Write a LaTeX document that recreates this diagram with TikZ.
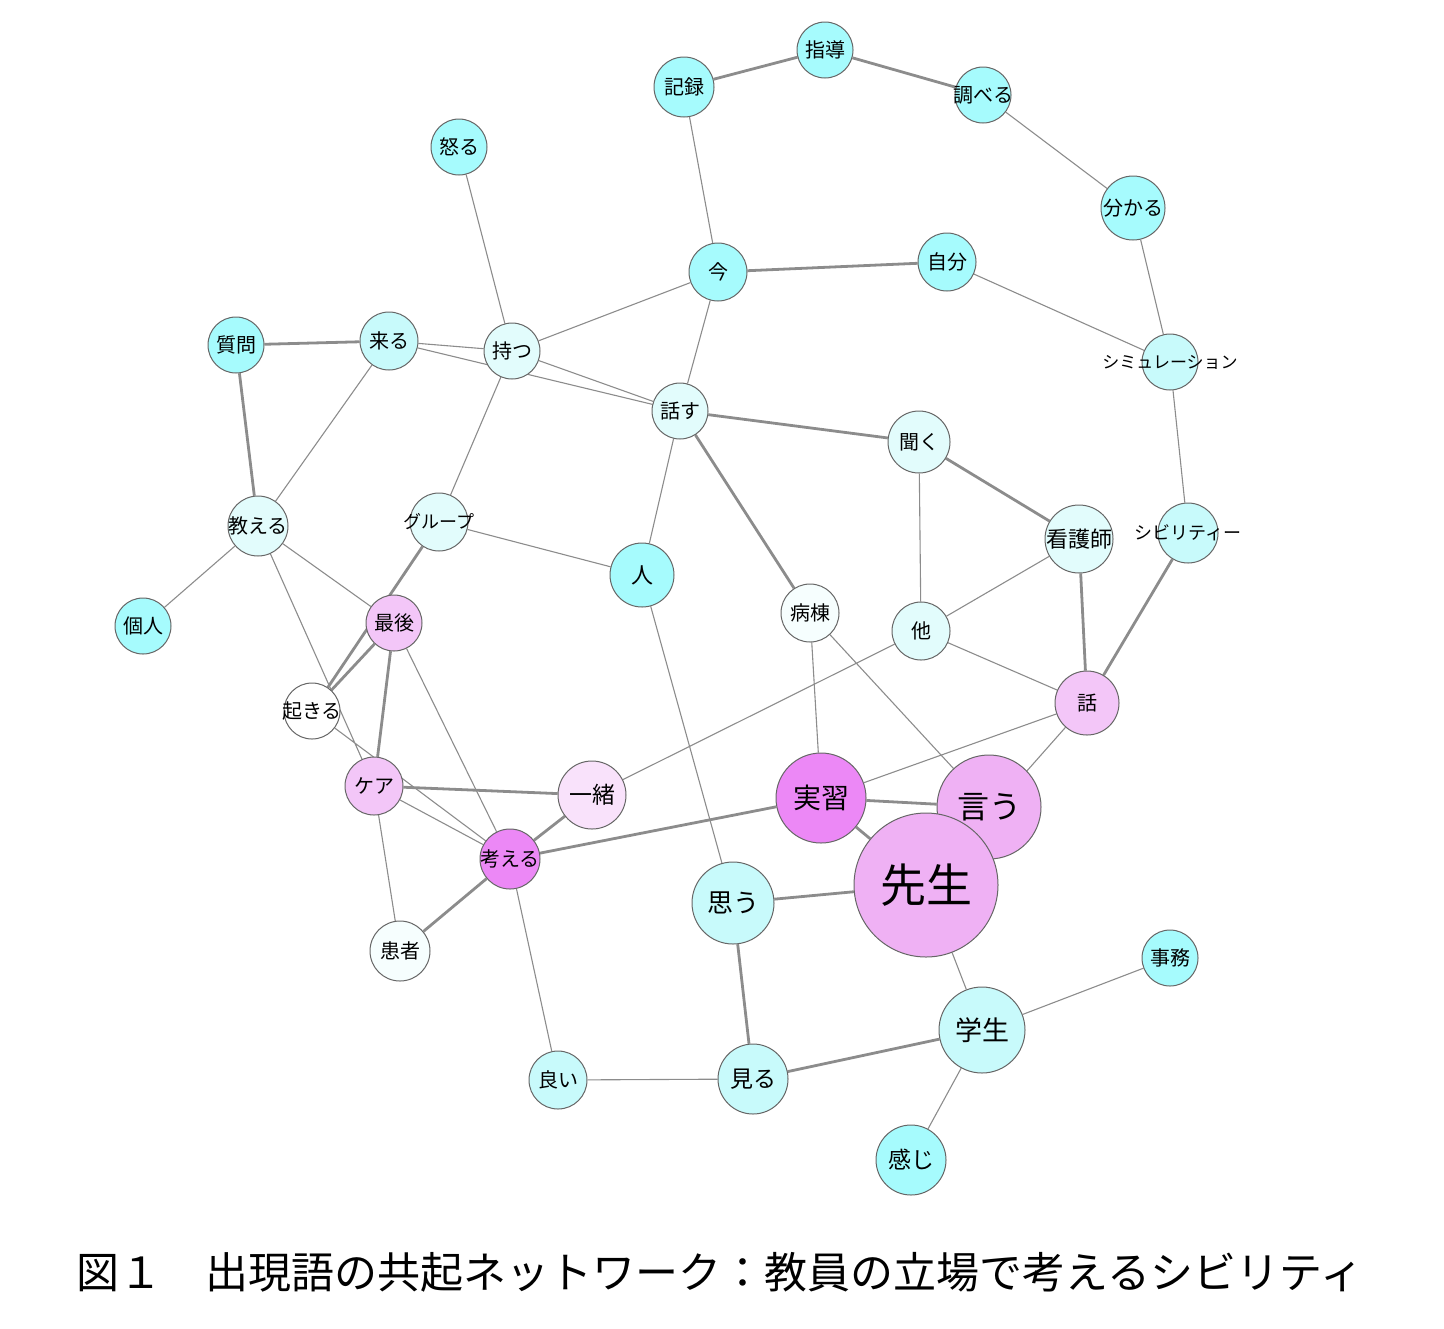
\documentclass[tikz,border=0pt]{standalone}
\usepackage{fontspec}
\setmainfont{Noto Sans CJK JP}
\usetikzlibrary{backgrounds}
\definecolor{wcyan}{HTML}{A6FBFD}
\definecolor{wlight}{HTML}{C8FAFB}
\definecolor{wpale}{HTML}{E2FCFC}
\definecolor{wwhite}{HTML}{F6FEFE}
\definecolor{wpink}{HTML}{F3C6F8}
\definecolor{wrose}{HTML}{F9E2FB}
\definecolor{wsay}{HTML}{EFB1F4}
\definecolor{wmag}{HTML}{EC88F6}
\newcommand{\wide}[1]{\makebox[0pt]{#1}}
\begin{document}
\begin{tikzpicture}[x=0.5pt,y=-0.5pt,
	word/.style={draw=black!60, circle, inner sep=0pt, line width=0.5pt, font=\fontsize{10}{10}\selectfont},
	lnk/.style={draw=black!45, line width=0.55pt},
	bold/.style={draw=black!45, line width=1.4pt}]
			\useasboundingbox (0,0) rectangle (1444,1328);
			\node (sido) at (825,50) [word, fill=wcyan, minimum size=28pt] {指導};
			\node (kiroku) at (684,87) [word, fill=wcyan, minimum size=30pt] {記録};
			\node (shiraberu) at (983,95) [word, fill=wcyan, minimum size=28pt] {\wide{調べる}};
			\node (okoru) at (459,147) [word, fill=wcyan, minimum size=28pt] {怒る};
			\node (wakaru) at (1133,208) [word, fill=wcyan, minimum size=32pt] {\wide{分かる}};
			\node (ima) at (718,272) [word, fill=wcyan, minimum size=29pt] {今};
			\node (jibun) at (947,262) [word, fill=wcyan, minimum size=29pt] {自分};
			\node (shitsumon) at (236,345) [word, fill=wcyan, minimum size=28pt] {質問};
			\node (kuru) at (389,341) [word, fill=wlight, minimum size=29pt] {来る};
			\node (motsu) at (512,351) [word, fill=wpale, minimum size=28pt] {持つ};
			\node (sim) at (1170,362) [word, fill=wlight, minimum size=28pt, font=\fontsize{8.5}{8.5}\selectfont] {\wide{シミュレーション}};
			\node (hanasu) at (680,411) [word, fill=wpale, minimum size=28pt] {話す};
			\node (kiku) at (919,442) [word, fill=wpale, minimum size=31pt] {聞く};
			\node (oshieru) at (258,526) [word, fill=wpale, minimum size=30pt] {\wide{教える}};
			\node (group) at (439,522) [word, fill=wpale, minimum size=29pt, font=\fontsize{9}{9}\selectfont] {\wide{グループ}};
			\node (hito) at (642,575) [word, fill=wcyan, minimum size=32pt, font=\fontsize{11}{11}\selectfont] {人};
			\node (kango) at (1079,539) [word, fill=wpale, minimum size=34pt, font=\fontsize{11}{11}\selectfont] {\wide{看護師}};
			\node (civ) at (1188,533) [word, fill=wlight, minimum size=30pt, font=\fontsize{9}{9}\selectfont] {\wide{シビリティー}};
			\node (kojin) at (143,626) [word, fill=wcyan, minimum size=28pt] {個人};
			\node (saigo) at (394,623) [word, fill=wpink, minimum size=28pt] {最後};
			\node (byoto) at (810,613) [word, fill=wwhite, minimum size=29pt] {病棟};
			\node (hoka) at (921,631) [word, fill=wpale, minimum size=29pt] {他};
			\node (okiru) at (312,711) [word, fill=white, minimum size=28pt] {\wide{起きる}};
			\node (hanashi) at (1087,703) [word, fill=wpink, minimum size=32pt] {話};
			\node (kea) at (374,786) [word, fill=wpink, minimum size=29pt] {ケア};
			\node (issho) at (592,795) [word, fill=wrose, minimum size=34pt, font=\fontsize{11.5}{11.5}\selectfont] {一緒};
			\node (jisshu) at (821,798) [word, fill=wmag, minimum size=45pt, font=\fontsize{14}{14}\selectfont] {実習};
			\node (iu) at (989,807) [word, fill=wsay, minimum size=52pt, font=\fontsize{16}{16}\selectfont] {言う};
			\node (kangaeru) at (510,859) [word, fill=wmag, minimum size=30pt] {\wide{考える}};
			\node (sensei) at (926,885) [word, fill=wsay, minimum size=72pt, font=\fontsize{23}{23}\selectfont] {先生};
			\node (omou) at (733,903) [word, fill=wlight, minimum size=41pt, font=\fontsize{13}{13}\selectfont] {思う};
			\node (kanja) at (400,951) [word, fill=wwhite, minimum size=30pt] {患者};
			\node (jimu) at (1170,958) [word, fill=wcyan, minimum size=28pt] {事務};
			\node (gakusei) at (982,1030) [word, fill=wlight, minimum size=43pt, font=\fontsize{13.5}{13.5}\selectfont] {学生};
			\node (yoi) at (558,1080) [word, fill=wlight, minimum size=29pt] {良い};
			\node (miru) at (753,1079) [word, fill=wlight, minimum size=35pt, font=\fontsize{11.5}{11.5}\selectfont] {見る};
			\node (kanji) at (911,1160) [word, fill=wcyan, minimum size=35pt, font=\fontsize{11.5}{11.5}\selectfont] {感じ};
			\node (caption) at (720,1272) {\fontsize{21.5}{21.5}\selectfont 図１　出現語の共起ネットワーク：教員の立場で考えるシビリティ};
			\begin{scope}[on background layer]
			\draw[bold] (kiroku) -- (sido) (sido) -- (shiraberu) (ima) -- (jibun)
			(shitsumon) -- (kuru) (shitsumon) -- (oshieru) (hanasu) -- (kiku)
			(hanasu) -- (byoto) (kiku) -- (kango) (group) -- (okiru)
			(saigo) -- (okiru) (saigo) -- (kea) (kango) -- (hanashi)
			(civ) -- (hanashi) (kea) -- (issho) (issho) -- (kangaeru)
			(kangaeru) -- (jisshu) (kangaeru) -- (kanja) (jisshu) -- (iu)
			(jisshu) -- (sensei) (omou) -- (sensei) (omou) -- (miru)
			(gakusei) -- (miru);
			\draw[lnk] (shiraberu) -- (wakaru) (wakaru) -- (sim) (kiroku) -- (ima)
			(jibun) -- (sim) (sim) -- (civ) (okoru) -- (motsu) (ima) -- (motsu)
			(ima) -- (hanasu) (kuru) -- (motsu) (kuru) -- (hanasu) (motsu) -- (hanasu)
			(kuru) -- (oshieru) (motsu) -- (group) (hanasu) -- (hito) (kiku) -- (hoka)
			(oshieru) -- (kojin) (oshieru) -- (saigo) (oshieru) -- (kea)
			(group) -- (hito) (saigo) -- (kangaeru) (okiru) -- (kangaeru)
			(kango) -- (hoka) (hoka) -- (hanashi) (hoka) -- (issho)
			(byoto) -- (jisshu) (byoto) -- (iu) (hito) -- (omou)
			(hanashi) -- (jisshu) (hanashi) -- (sensei) (kea) -- (kangaeru)
			(kea) -- (kanja) (kangaeru) -- (yoi) (sensei) -- (gakusei)
			(gakusei) -- (jimu) (gakusei) -- (kanji) (yoi) -- (miru);
			\end{scope}
\end{tikzpicture}
\end{document}
